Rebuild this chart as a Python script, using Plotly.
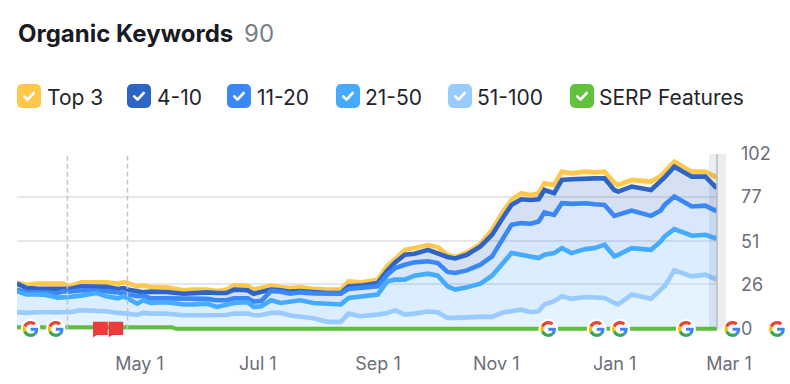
import base64
import pandas as pd
import plotly.graph_objects as go

START = pd.Timestamp("2022-03-05")
LAST_DAY = 361
day_offsets = [0,5,10,15,21,24,27,33,41,46,52,55,57,62,65,69,77,86,91,98,103,108,112,119,122,126,
               131,136,141,146,153,160,167,171,177,186,191,195,200,205,212,217,222,226,232,239,245,251,255,
               260,265,269,272,277,281,286,293,298,303,308,310,317,327,332,334,339,348,355,360,361]
# running totals of keywords up to and including each position bucket
top3 = [27.1,25.6,26.4,26.4,26.0,26.4,24.8,27.1,27.1,27.1,26.4,27.1,26.8,24.8,25.4,24.4,24.2,22.5,22.9,22.9,22.1,22.9,25.2,25.2,22.9,23.8,
        25.2,24.4,23.8,24.4,23.3,22.9,22.9,27.7,27.1,28.7,36.8,40.7,46.1,47.1,48.9,47.7,43.2,41.9,44.6,49.6,57.8,69.0,75.2,
        79.1,78.1,79.1,84.9,84.0,91.7,90.7,91.7,91.3,91.7,85.3,84.0,86.9,85.9,89.2,91.7,97.5,91.7,91.7,88.8,89.8]
pos4_10 = [26.4,23.8,23.5,23.5,23.5,23.7,23.3,24.8,24.8,24.6,23.3,23.8,22.9,21.7,21.3,21.7,21.5,20.5,20.9,21.3,20.9,20.9,22.9,22.5,20.5,21.3,
           22.9,22.5,21.7,22.1,21.3,20.9,20.9,24.8,25.2,26.8,34.1,38.8,43.2,43.8,46.1,44.2,41.9,41.1,43.2,48.1,54.9,65.5,72.3,
           75.6,75.2,75.6,81.0,79.1,86.9,87.3,87.8,87.8,87.8,81.0,80.1,83.0,81.0,85.9,88.4,94.6,88.8,88.8,83.0,84.0]
pos11_20 = [22.9,21.3,21.3,21.3,20.9,21.9,21.7,22.5,22.5,21.9,21.3,20.5,20.2,19.0,19.4,17.8,17.8,17.8,17.5,17.5,16.7,16.7,17.8,17.8,15.9,16.3,
            22.1,21.7,20.5,21.3,20.7,20.5,20.5,23.3,24.0,24.8,31.6,35.5,37.4,38.8,39.4,38.4,33.2,32.6,34.1,37.4,42.3,52.9,60.7,
            61.7,61.3,62.6,67.9,66.5,73.3,72.9,73.3,72.7,72.3,65.9,66.5,69.0,65.9,69.0,72.3,77.2,71.4,71.9,69.0,69.8]
pos21_50 = [21.9,20.0,20.0,19.8,18.2,18.2,18.6,19.4,20.9,19.0,17.8,19.0,17.8,14.7,16.7,15.1,15.5,14.2,14.3,14.7,12.8,14.3,15.1,15.5,12.8,13.2,
            16.7,15.1,15.7,16.7,15.1,14.7,14.2,18.0,19.0,20.0,27.7,28.7,28.7,31.0,32.2,31.0,24.8,22.9,24.2,26.4,31.0,39.4,44.2,
            43.2,41.9,41.3,43.2,44.2,47.1,44.2,46.5,47.1,49.1,42.3,43.2,47.1,46.1,51.0,53.9,58.2,54.3,54.9,52.9,53.5]
pos51_100 = [9.7,9.3,9.7,9.7,9.7,9.7,9.7,10.9,10.9,10.3,9.3,9.3,8.9,8.1,9.3,8.9,8.9,7.9,7.9,8.1,7.8,8.1,8.9,8.9,7.9,8.1,
             9.3,9.3,7.8,7.4,6.2,4.1,4.1,8.9,7.4,8.3,9.3,10.9,8.3,8.9,10.1,9.7,6.4,6.4,6.8,7.0,7.0,9.7,10.3,
             11.2,9.7,10.3,14.2,16.1,19.0,17.5,18.6,18.0,18.0,15.1,14.2,20.0,17.5,22.9,24.8,34.1,30.6,31.6,29.1,30.2]
serp_days = [0, 80, 82, 361]
serp_values = [1, 1, 0, 0]

tick_dates = ["2022-05-01", "2022-07-01", "2022-09-01", "2022-11-01", "2023-01-01", "2023-03-01"]
tick_labels = ["May 1", "Jul 1", "Sep 1", "Nov 1", "Jan 1", "Mar 1"]
y_ticks = [0, 26, 51, 77, 102]
google_update_days = [7, 20, 274, 299, 311, 345, 369, 392]
note_days = [43, 51]
dashed_days = [26, 57]
legend_names = ["Top 3", "4-10", "11-20", "21-50", "51-100", "SERP Features"]
legend_colors = ["#FFC84D", "#2C65C5", "#3A88F5", "#45ABFF", "#99CBFF", "#63C23D"]

# page geometry
PL, PR, PT, PB = 17, 717, 154, 334
PW, PH = PR - PL, PB - PT
X = lambda px: (px - PL) / PW
Y = lambda py: (PB - py) / PH
to_date = lambda d: START + pd.Timedelta(days=d)
dates = [to_date(d) for d in day_offsets]


def uri(svg):
    return "data:image/svg+xml;base64," + base64.b64encode(svg.encode()).decode()


G_SVG = uri('<svg xmlns="http://www.w3.org/2000/svg" width="20" height="20" viewBox="-6 -6 60 60">'
            '<circle cx="24" cy="24" r="30" fill="#fff"/>'
            '<path fill="#EA4335" d="M24 9.5c3.54 0 6.71 1.22 9.21 3.6l6.85-6.85C35.9 2.38 30.47 0 24 0 14.62 0 6.51 5.38 2.56 13.22l7.98 6.19C12.43 13.72 17.74 9.5 24 9.5z"/>'
            '<path fill="#4285F4" d="M46.98 24.55c0-1.57-.15-3.09-.38-4.55H24v9.02h12.94c-.58 2.96-2.26 5.48-4.78 7.18l7.73 6c4.51-4.18 7.09-10.36 7.09-17.65z"/>'
            '<path fill="#FBBC05" d="M10.53 28.59c-.48-1.45-.76-2.99-.76-4.59s.27-3.14.76-4.59l-7.98-6.19C.92 16.46 0 20.12 0 24c0 3.88.92 7.54 2.56 10.78l7.97-6.19z"/>'
            '<path fill="#34A853" d="M24 48c6.48 0 11.93-2.13 15.89-5.81l-7.73-6c-2.15 1.45-4.92 2.3-8.16 2.3-6.26 0-11.57-4.22-13.47-9.91l-7.98 6.19C6.51 42.62 14.62 48 24 48z"/></svg>')
FLAG_SVG = uri('<svg xmlns="http://www.w3.org/2000/svg" width="15" height="16" viewBox="0 0 15 16">'
               '<path fill="#EE3A3A" d="M0 0H15V13.5H4L0 16Z"/></svg>')


def check_svg(color):
    return uri('<svg xmlns="http://www.w3.org/2000/svg" width="24" height="24" viewBox="0 0 24 24">'
               f'<rect width="24" height="24" rx="5" fill="{color}"/>'
               '<path d="M7.2 12.4l3.3 3.2 6.2-6.6" fill="none" stroke="#fff" stroke-width="2.6" '
               'stroke-linecap="round" stroke-linejoin="round"/></svg>')


fig = go.Figure()

fills = [(pos51_100, "tozeroy", "rgba(153,204,255,0.25)"),
         (pos21_50, "tonexty", "rgba(69,170,255,0.20)"),
         (pos11_20, "tonexty", "rgba(58,133,240,0.20)"),
         (pos4_10, "tonexty", "rgba(43,101,196,0.20)"),
         (top3, "tonexty", "rgba(255,198,77,0.20)")]
for vals, mode, color in fills:
    fig.add_trace(go.Scatter(x=dates, y=vals, mode="none", fill=mode, fillcolor=color, hoverinfo="skip"))

lines = [(top3, 0), (pos4_10, 1), (pos11_20, 2), (pos21_50, 3), (pos51_100, 4)]
for vals, i in lines:
    fig.add_trace(go.Scatter(x=dates, y=vals, mode="lines", name=legend_names[i],
                             line=dict(color=legend_colors[i], width=4.6)))
fig.add_trace(go.Scatter(x=[to_date(d) for d in serp_days], y=serp_values, mode="lines",
                         name=legend_names[5], line=dict(color="#5FBE3C", width=4)))

shapes = []
for d in dashed_days:
    shapes.append(dict(type="line", xref="x", yref="y", x0=to_date(d), x1=to_date(d), y0=0, y1=102,
                       line=dict(color="#BFC7CA", width=1.5, dash="5px,3px"), layer="above"))
shapes.append(dict(type="rect", xref="paper", yref="y", x0=X(709), x1=X(717), y0=0, y1=102,
                   fillcolor="rgba(90,110,130,0.12)", line_width=0, layer="above"))
shapes.append(dict(type="rect", xref="paper", yref="y", x0=X(717), x1=X(726), y0=0, y1=102,
                   fillcolor="#EBEDEE", line_width=0, layer="below"))
shapes.append(dict(type="line", xref="paper", yref="y", x0=1, x1=1, y0=0, y1=102,
                   line=dict(color="#B5BDC0", width=1.5), layer="above"))

images = []
for d in google_update_days:
    images.append(dict(source=G_SVG, xref="paper", yref="paper", x=d / LAST_DAY, y=Y(329),
                       sizex=20 / PW, sizey=20 / PH, xanchor="center", yanchor="middle",
                       sizing="stretch", layer="above"))
for d in note_days:
    images.append(dict(source=FLAG_SVG, xref="paper", yref="paper", x=d / LAST_DAY, y=Y(329.5),
                       sizex=15 / PW, sizey=16 / PH, xanchor="center", yanchor="middle",
                       sizing="stretch", layer="above"))

annotations = [
    dict(text="<b>Organic Keywords</b>", x=X(15.5), y=Y(34), font=dict(family="Inter", size=24, color="#191B23")),
    dict(text="90", x=X(242), y=Y(34), font=dict(family="Inter", size=24, color="#7A7D88")),
]
box_left = [17, 127, 227, 336, 448, 570]
text_left = [45, 155, 255, 363, 475, 597]
for name, color, bx, tx in zip(legend_names, legend_colors, box_left, text_left):
    images.append(dict(source=check_svg(color), xref="paper", yref="paper", x=X(bx), y=Y(84),
                       sizex=24 / PW, sizey=24 / PH, xanchor="left", yanchor="top",
                       sizing="stretch", layer="above"))
    annotations.append(dict(text=name, x=X(tx), y=Y(97), font=dict(family="Inter", size=21, color="#23252D")))
for a in annotations:
    a.update(xref="paper", yref="paper", xanchor="left", yanchor="middle", showarrow=False)

fig.update_layout(
    width=790, height=384, autosize=False,
    margin=dict(l=PL, r=790 - PR, t=PT, b=384 - PB, pad=0),
    paper_bgcolor="#FFFFFF", plot_bgcolor="#FFFFFF", showlegend=False,
    shapes=shapes, images=images, annotations=annotations,
    xaxis=dict(type="date", range=[to_date(0), to_date(LAST_DAY)], tickvals=tick_dates, ticktext=tick_labels,
               automargin=False, showgrid=False, zeroline=False, showline=False, ticks="", ticklabelshift=12,
               ticklabelstandoff=17, tickfont=dict(family="Inter", size=18, color="#6C6E79")),
    yaxis=dict(range=[-3, 102], side="right", tickvals=y_ticks, ticktext=[str(v) for v in y_ticks],
               automargin=False, showgrid=True, gridcolor="#E6E7EC", gridwidth=2, zeroline=False, showline=False,
               ticks="", ticklabelstandoff=23, tickfont=dict(family="Inter", size=18, color="#6C6E79")),
)

fig.write_html("out.html", config={"displayModeBar": False},
               post_script="document.body.style.margin='0';document.body.style.overflow='hidden';")
